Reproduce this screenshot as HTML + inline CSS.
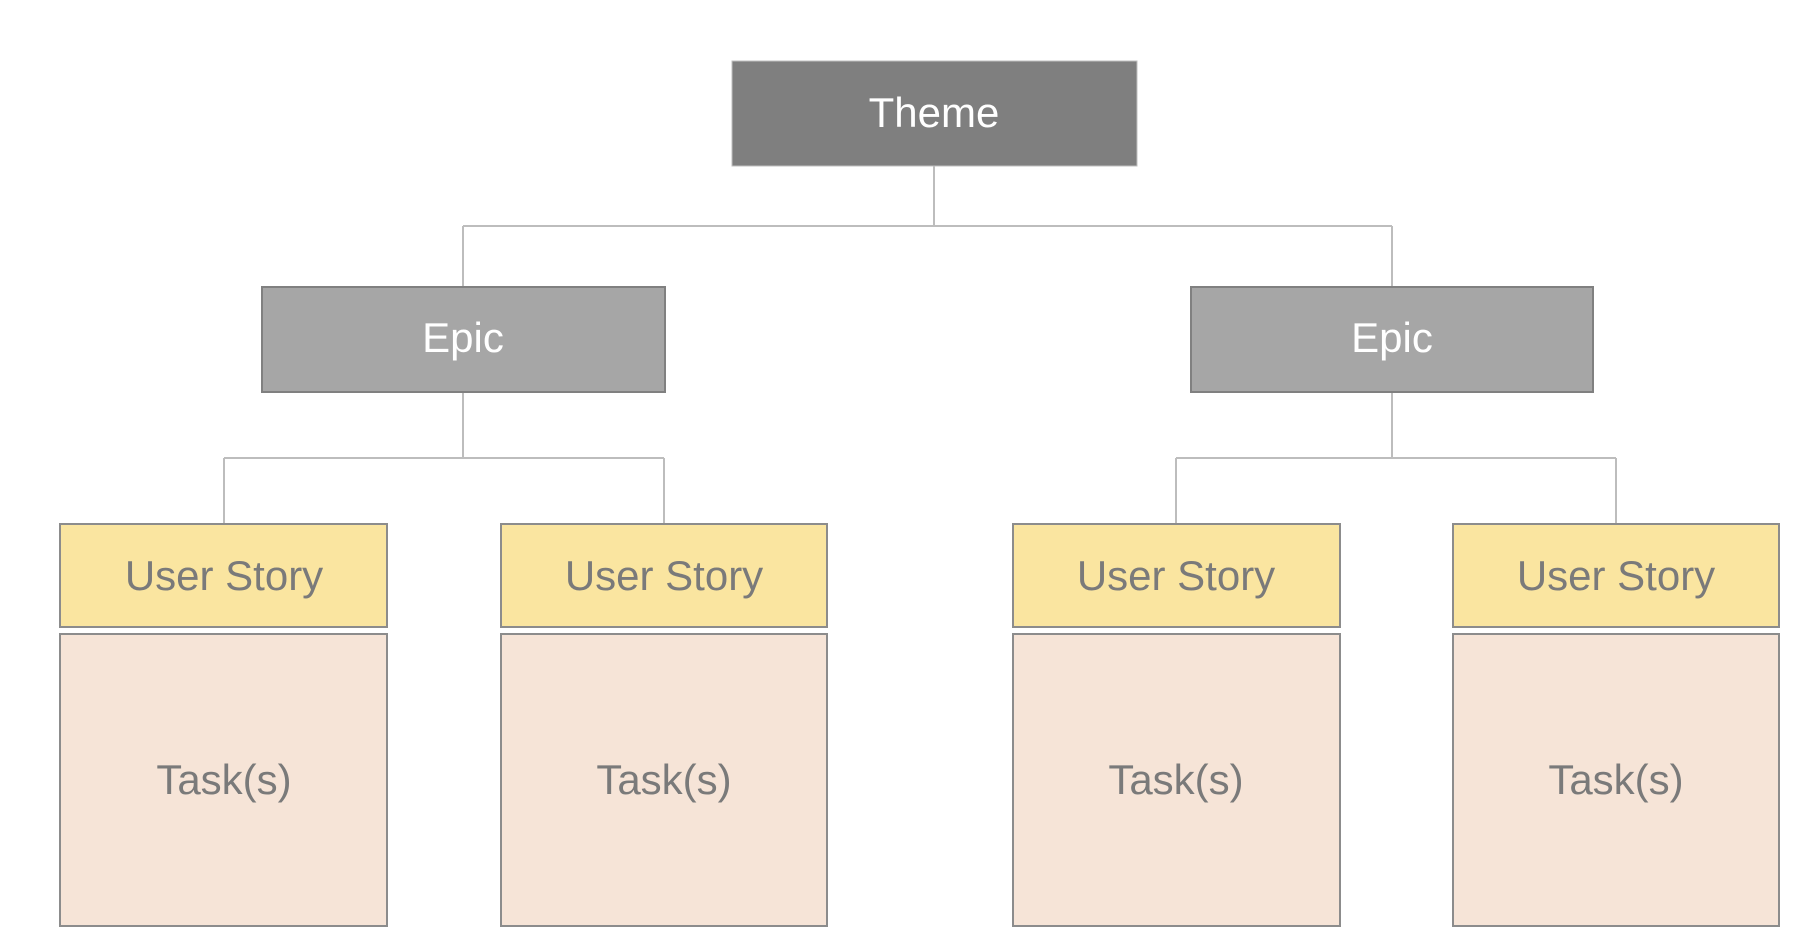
<!DOCTYPE html>
<html><head><meta charset="utf-8"><style>
html,body{margin:0;padding:0;background:#fff;width:1816px;height:942px;overflow:hidden}
</style></head><body>
<svg width="1816" height="942" viewBox="0 0 1816 942" xmlns="http://www.w3.org/2000/svg" font-family="Liberation Sans, DejaVu Sans, sans-serif" font-size="42" text-anchor="middle">
<g stroke="#bdbdbd" stroke-width="2" fill="none">
<path d="M934 166V226M463 226H1392M463 226V287M1392 226V287"/>
<path d="M463 392V458M224 458H664M224 458V524M664 458V524"/>
<path d="M1392 392V458M1176 458H1616M1176 458V524M1616 458V524"/>
</g>
<rect x="732" y="61" width="405" height="105" fill="#7f7f7f" stroke="#bfbfbf" stroke-width="1"/>
<text x="934" y="127" fill="#fff">Theme</text>
<rect x="262" y="287" width="403" height="105" fill="#a6a6a6" stroke="#808080" stroke-width="2"/>
<text x="463" y="352" fill="#fff">Epic</text>
<rect x="1191" y="287" width="402" height="105" fill="#a6a6a6" stroke="#808080" stroke-width="2"/>
<text x="1392" y="352" fill="#fff">Epic</text>
<g stroke="#8c8c8c" stroke-width="2">
<rect x="60" y="524" width="327" height="103" fill="#fae5a0"/>
<rect x="501" y="524" width="326" height="103" fill="#fae5a0"/>
<rect x="1013" y="524" width="327" height="103" fill="#fae5a0"/>
<rect x="1453" y="524" width="326" height="103" fill="#fae5a0"/>
<rect x="60" y="634" width="327" height="292" fill="#f6e4d7"/>
<rect x="501" y="634" width="326" height="292" fill="#f6e4d7"/>
<rect x="1013" y="634" width="327" height="292" fill="#f6e4d7"/>
<rect x="1453" y="634" width="326" height="292" fill="#f6e4d7"/>
</g>
<g fill="#7a7a7a">
<text x="224" y="590">User Story</text>
<text x="664" y="590">User Story</text>
<text x="1176" y="590">User Story</text>
<text x="1616" y="590">User Story</text>
<text x="224" y="794">Task(s)</text>
<text x="664" y="794">Task(s)</text>
<text x="1176" y="794">Task(s)</text>
<text x="1616" y="794">Task(s)</text>
</g>
</svg>
</body></html>
